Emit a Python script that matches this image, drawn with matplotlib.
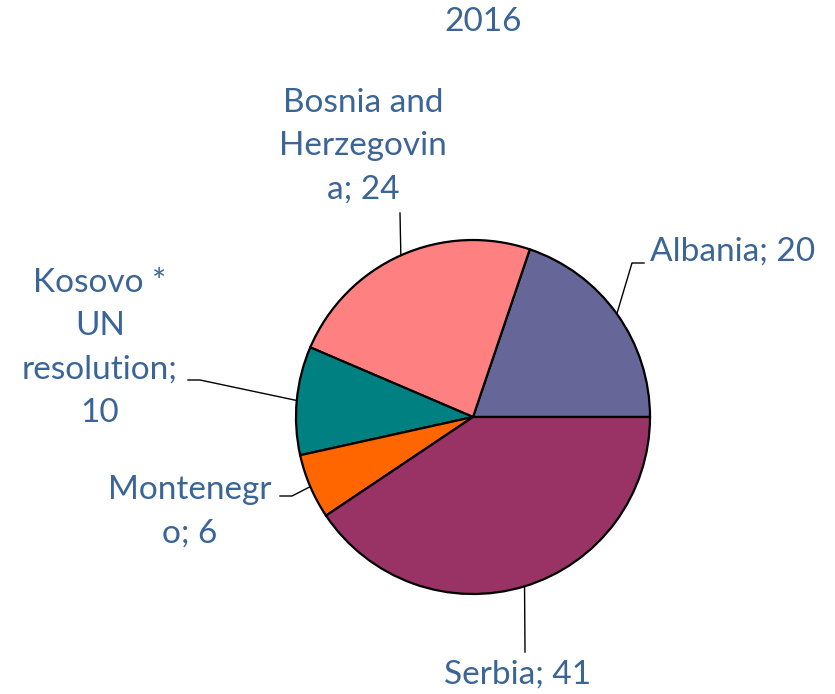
import numpy as np
import matplotlib
matplotlib.use("Agg")
from matplotlib import pyplot as plt

# data
names = ["Albania", "Bosnia and\nHerzegovin\na", "Kosovo *\nUN\nresolution", "Montenegr\no", "Serbia"]
values = [20, 24, 10, 6, 41]
colors = ["#666699", "#FF8080", "#008080", "#FF6600", "#993366"]
title = "2016"

W, H = 835, 694
TXT = "#3B6497"
plt.rcParams['font.family'] = ['Lato', 'DejaVu Sans']

fig = plt.figure(figsize=(W / 100, H / 100), dpi=100)
ax = fig.add_axes([0, 0, 1, 1])
ax.axis("off")

def Y(py):
    return H - py

cx, cy, r = 473, 417, 177
wedges, _ = ax.pie(values, colors=colors, startangle=0, counterclock=True,
                   center=(cx, Y(cy)), radius=r,
                   wedgeprops=dict(edgecolor="black", linewidth=1.6))
ax.set_xlim(0, W)
ax.set_ylim(0, H)
ax.set_aspect("equal")

def edge(w):
    a = np.deg2rad((w.theta1 + w.theta2) / 2)
    return cx + r * np.cos(a), Y(cy) + r * np.sin(a)

# Kosovo label breaks after the semicolon
texts = []
for n, v in zip(names, values):
    sep = ";\n" if n.startswith("Kosovo") else "; "
    texts.append(f"{n}{sep}{v}")

pos = [(650, 252, "left"), (363, 146, "center"), (100, 348, "center"),
       (190, 512, "center"), (518, 675, "center")]
elbows = [
    [(644, 263), (632, 263)],
    [(400, 213)],
    [(188, 380), (200, 380)],
    [(280, 496), (292, 496)],
    [(525, 652)],
]

for w, t, (px, py, ha), el in zip(wedges, texts, pos, elbows):
    ax.text(px, Y(py), t, ha=ha, va="center", color=TXT, fontsize=24,
            linespacing=1.55, multialignment="center")
    ex, ey = edge(w)
    xs = [p[0] for p in el] + [ex]
    ys = [Y(p[1]) for p in el] + [ey]
    ax.plot(xs, ys, color="black", linewidth=1.0)

ax.text(483, Y(22), title, ha="center", va="center", color=TXT, fontsize=24)

fig.savefig("out.png", dpi=100)
